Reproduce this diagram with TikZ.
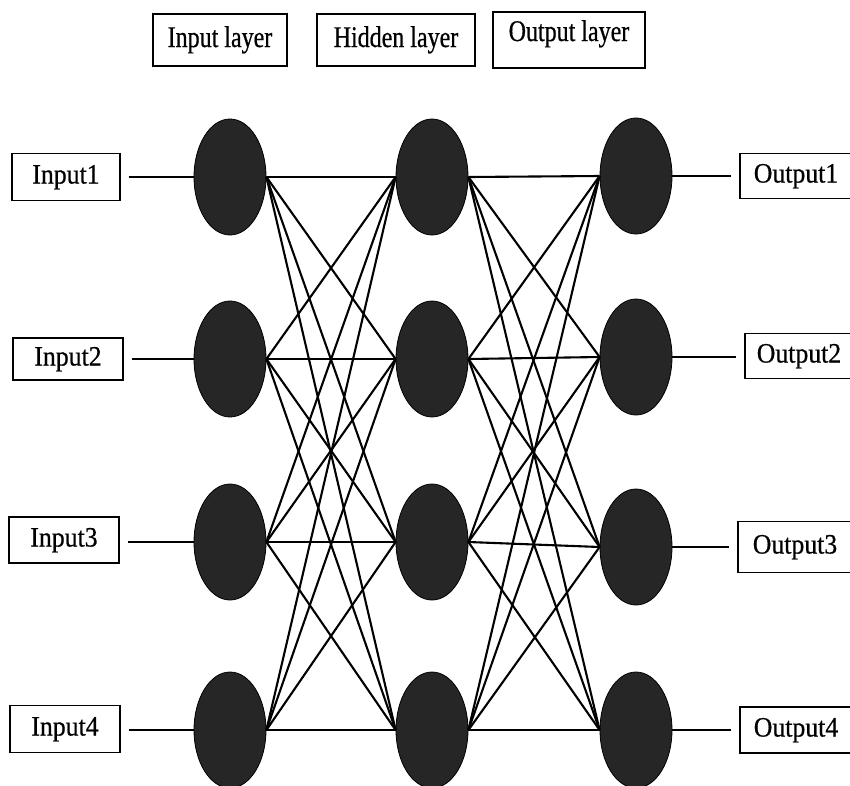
\documentclass[tikz,border=0pt]{standalone}
\usepackage{fontspec}
\setmainfont{Liberation Serif}
\newfontfamily\hdrfont[FakeStretch=0.8,FakeBold=0.6]{Liberation Serif}
\newfontfamily\boxfont[FakeStretch=0.92,FakeBold=0.6]{Liberation Serif}
\usetikzlibrary{shapes.geometric}
\begin{document}
\begin{tikzpicture}[x=1pt,y=-1pt,
  neuron/.style={ellipse, fill=black!85, draw=black, line width=0.8pt,
    minimum width=72pt, minimum height=116pt, inner sep=0pt},
  iobox/.style={draw, line width=1.2pt, inner sep=0pt,
    font=\boxfont\fontsize{28}{28}\selectfont, text height=19pt, text depth=6pt},
  hdrbox/.style={draw, line width=1.2pt, inner sep=0pt,
    font=\hdrfont\fontsize{30}{30}\selectfont},
  link/.style={line width=2.1pt},
]
\useasboundingbox (0,0) rectangle (850,785);

% header boxes
\node[hdrbox, minimum width=134pt, text height=33pt, text depth=19pt] (hin) at (220,40) {Input layer};
\node[hdrbox, minimum width=158pt, text height=33pt, text depth=19pt] (hhid) at (396,40) {Hidden layer};
\node[hdrbox, minimum width=152pt, text height=29pt, text depth=27pt] (hout) at (569,40) {Output layer};

% neurons
\foreach \n/\y in {1/177,2/359,3/542,4/730} {
  \node[neuron] (a\n) at (230,\y) {};
  \node[neuron] (b\n) at (432,\y) {};
}
\foreach \n/\y in {1/176,2/357,3/547,4/730} {
  \node[neuron] (c\n) at (636,\y) {};
}

% input boxes
\node[iobox, minimum width=108pt, minimum height=47pt] (in1) at (66,177) {Input1};
\node[iobox, minimum width=110pt, minimum height=42pt] (in2) at (68,359) {Input2};
\node[iobox, minimum width=110pt, minimum height=46pt] (in3) at (64,540) {Input3};
\node[iobox, minimum width=110pt, minimum height=47pt] (in4) at (65,729) {Input4};

% output boxes
\node[iobox, minimum width=112pt, minimum height=45pt] (o1) at (796,176) {Output1};
\node[iobox, minimum width=108pt, minimum height=45pt] (o2) at (799,356) {Output2};
\node[iobox, minimum width=114pt, minimum height=51pt] (o3) at (795,547) {Output3};
\node[iobox, minimum width=112pt, minimum height=46pt] (o4) at (796,730) {Output4};

% input lines
\foreach \n in {1,...,4} {
  \draw[link, shorten <=8pt] (in\n.east |- a\n.west) -- (a\n.west);
}
% full connections
\foreach \i in {1,...,4} {
  \foreach \j in {1,...,4} {
    \draw[link] (a\i.east) -- (b\j.west);
    \draw[link] (b\i.east) -- (c\j.west);
  }
}
% output lines
\foreach \n in {1,...,4} {
  \draw[link, shorten >=8pt] (c\n.east) -- (c\n.east -| o\n.west);
}
\end{tikzpicture}
\end{document}
